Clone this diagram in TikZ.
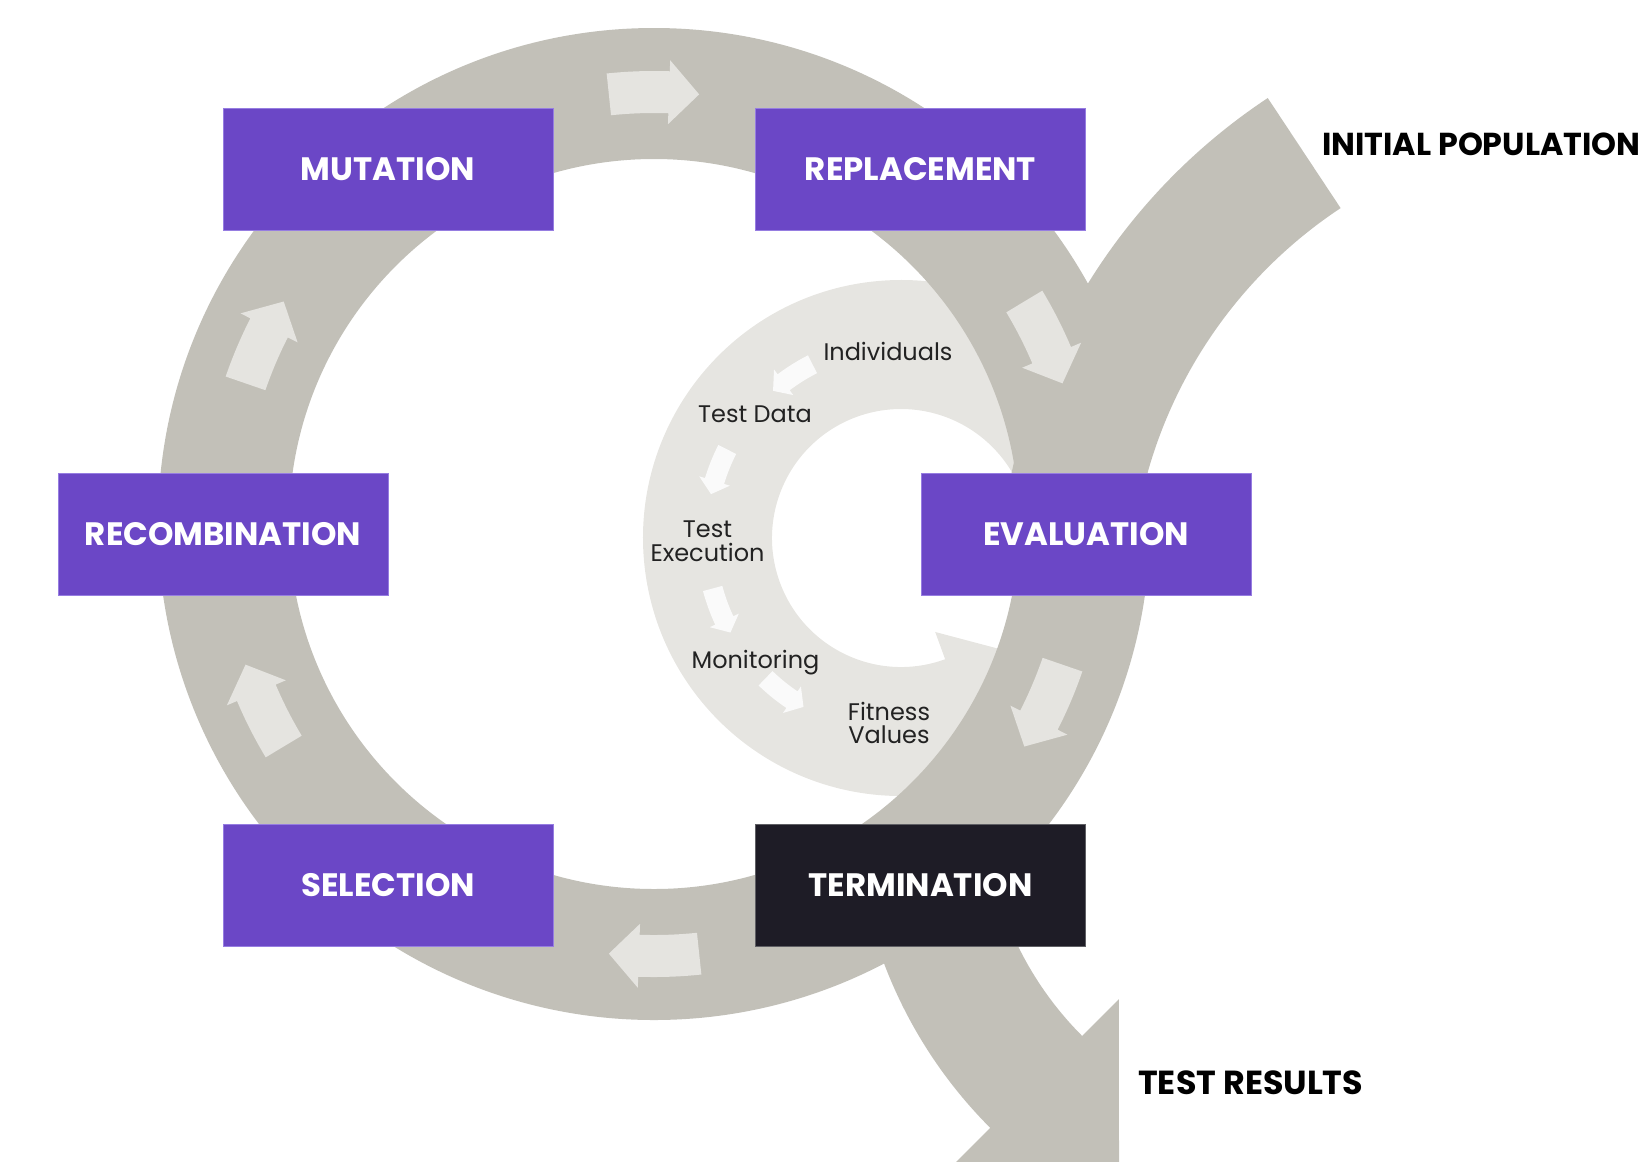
\documentclass[tikz,border=0pt]{standalone}
\usepackage{fontspec}
\setmainfont{Poppins}

\begin{document}
\begin{tikzpicture}[x=0.75pt,y=0.75pt,yscale=-1,xscale=1,
  ring/.style={fill={rgb, 255:red, 194; green, 192; blue, 184 }},
  ringarrow/.style={fill={rgb, 255:red, 229; green, 228; blue, 224 }},
  lightband/.style={fill={rgb, 255:red, 230; green, 229; blue, 225 }},
  flowarrow/.style={fill={rgb, 255:red, 250; green, 250; blue, 250 }},
  stage/.style={fill={rgb, 255:red, 107; green, 71; blue, 198 }, draw={rgb, 255:red, 150; green, 125; blue, 225 }, line width=0.5pt, minimum width=247.5pt, minimum height=91.5pt, inner sep=0pt, text=white, font=\fontsize{24.3}{28}\selectfont\bfseries},
  endstage/.style={stage, fill={rgb, 255:red, 30; green, 28; blue, 38 }, draw={rgb, 255:red, 95; green, 95; blue, 100 }},
  steplabel/.style={inner sep=0pt, align=center, text={rgb, 255:red, 34; green, 34; blue, 34 }, font=\fontsize{18}{17.6}\selectfont},
  outlabel/.style={inner sep=0pt, anchor=west, font=\fontsize{25}{29}\selectfont\bfseries}]
\useasboundingbox (0,0) rectangle (1648,1161);

%Shape: Inner Band with head
\begin{scope}
\clip (654,524) circle (496);
\begin{scope}[shift={(901,538)}]
\fill [lightband] (70:129) arc [start angle=70, end angle=355, radius=129] -- (355:258) arc [start angle=355, end angle=70, radius=258] -- (70:287) -- (40:193) -- (70:100) -- cycle ;
\end{scope}
\end{scope}
%Shape: Inner Flow Arrows
\begin{scope}[shift={(901,538)}]
\foreach \a in {236,200,158,127}
  \fill [flowarrow] ({\a+7}:185) arc [start angle=\a+7, end angle=\a-3, radius=185] -- ({\a-3}:179) -- ({\a-7}:195) -- ({\a-3}:211) -- ({\a-3}:205) arc [start angle=\a-3, end angle=\a+7, radius=205] -- cycle ;
\end{scope}

%Shape: Ring
\fill [ring, even odd rule] (654,524) circle (496) (654,524) circle (365) ;
%Shape: Initial Population Band
\begin{scope}[shift={(1600,600)}]
\fill [ring] (236.5:602) arc [start angle=236.5, end angle=188, radius=602] -- (188:470) arc [start angle=188, end angle=236.5, radius=470] -- cycle ;
\end{scope}
%Shape: Test Results Band with head
\begin{scope}[shift={(1319,799)}]
\fill [ring] (160:465) arc [start angle=160, end angle=135, radius=465] -- (135:518) -- (-200,366) -- (135:283) -- (135:335) arc [start angle=135, end angle=160, radius=335] -- cycle ;
\end{scope}
%Shape: Ring Arrows
\begin{scope}[shift={(654,524)}]
\foreach \a in {-90,-25,25,90,155,205}
  \fill [ringarrow] ({\a-6}:411) arc [start angle=\a-6, end angle=\a+2, radius=411] -- ({\a+2}:400) -- ({\a+6}:432) -- ({\a+2}:464) -- ({\a+2}:453) arc [start angle=\a+2, end angle=\a-6, radius=453] -- cycle ;
\end{scope}

%Shape: Rectangle
\draw (388,169) node [stage] (mutation) {MUTATION};
%Shape: Rectangle
\draw (920.5,169) node [stage] (replacement) {REPLACEMENT};
%Shape: Rectangle
\draw (223,534) node [stage] (recombination) {RECOMBINATION};
%Shape: Rectangle
\draw (1086,534) node [stage] (evaluation) {EVALUATION};
%Shape: Rectangle
\draw (388,885) node [stage] (selection) {SELECTION};
%Shape: Rectangle
\draw (920.5,885) node [endstage] (termination) {TERMINATION};

% Text Node
\draw (888,360) node [steplabel, anchor=base] (individuals) {Individuals};
% Text Node
\draw (755,422) node [steplabel, anchor=base] (testdata) {Test Data};
% Text Node
\draw (707.5,541) node [steplabel] (testexec) {Test\\Execution};
% Text Node
\draw (755.5,668) node [steplabel, anchor=base] (monitoring) {Monitoring};
% Text Node
\draw (889,723) node [steplabel] (fitness) {Fitness\\Values};
% Text Node
\draw (1322,144) node [outlabel, font=\fontsize{23.8}{28}\selectfont\bfseries] (initial) {INITIAL POPULATION};
% Text Node
\draw (1138,1083) node [outlabel] (results) {TEST RESULTS};

\end{tikzpicture}
\end{document}
